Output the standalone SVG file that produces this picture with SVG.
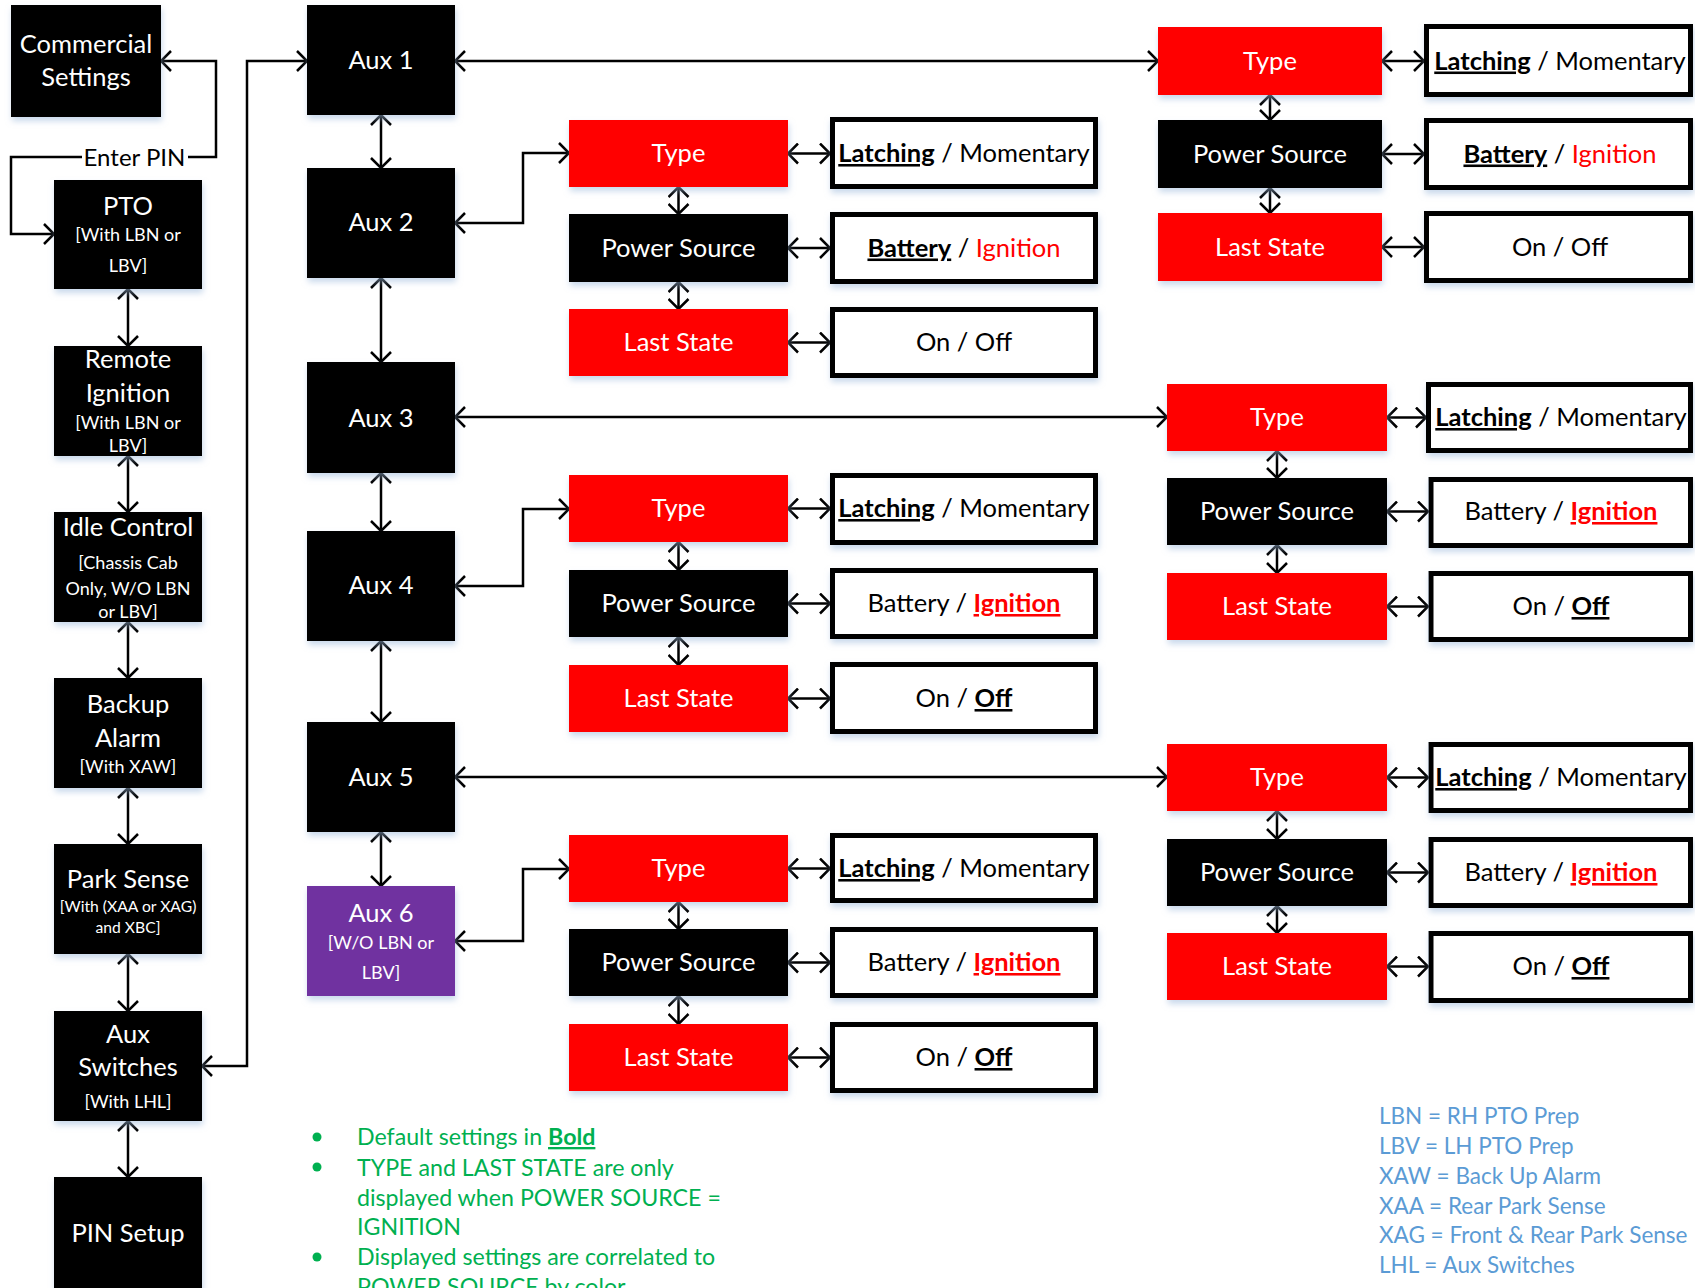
<svg xmlns="http://www.w3.org/2000/svg" width="1695" height="1288" viewBox="0 0 1695 1288">
<defs>
<style>
.blk{fill:#000}
.red{fill:#FF0000}
.pur{fill:#7030A0}
.box{filter:url(#sh)}
.val{fill:#fff;stroke:#000;stroke-width:5;filter:url(#sh)}
text{font-family:Lato,"Liberation Sans",sans-serif;text-anchor:middle}
.w{fill:#fff}
.m{font-size:25.5px}
.s{font-size:18px}
.xs{font-size:15.7px}
.ep{font-size:24px;fill:#000}
.v{fill:#000;font-size:25.5px}
.b{font-weight:bold;text-decoration:underline}
.r{fill:#FF0000}
.c{fill:none;stroke:#000;stroke-width:2.5;marker-end:url(#ah)}
.d{fill:none;stroke:#000;stroke-width:2.5;marker-start:url(#ah);marker-end:url(#ah)}
.g{fill:#00B050;font-size:23.2px;text-anchor:start}
.l{fill:#5B9BD5;font-size:22.5px;text-anchor:start}
</style>
<filter id="sh" x="-10%" y="-10%" width="125%" height="140%">
<feDropShadow dx="1" dy="4" stdDeviation="3" flood-color="#9DB9DC" flood-opacity="0.55"/>
</filter>
<marker id="ah" viewBox="0 0 12 22" refX="11" refY="11" markerWidth="12" markerHeight="22" markerUnits="userSpaceOnUse" orient="auto-start-reverse">
<path d="M1,1 L11,11 L1,21" fill="none" stroke="#000" stroke-width="2.5"/>
</marker>
</defs>
<rect width="1695" height="1288" fill="#fff"/>

<g id="connectors">
<path class="c" d="M188,157 H216 V61 H161"/>
<path class="c" d="M82,157 H11 V234 H54"/>
<path class="d" d="M128,289 V346"/>
<path class="d" d="M128,456 V512"/>
<path class="d" d="M128,622 V678"/>
<path class="d" d="M128,788 V844"/>
<path class="d" d="M128,954 V1011"/>
<path class="d" d="M128,1121 V1177"/>
<path class="d" d="M202,1066 H247 V61 H307"/>
<path class="d" d="M381,115 V168"/>
<path class="d" d="M381,278 V362"/>
<path class="d" d="M381,473 V531"/>
<path class="d" d="M381,641 V722"/>
<path class="d" d="M381,832 V886"/>
<path class="d" d="M455,61 H1158"/>
<path class="d" d="M455,417 H1167"/>
<path class="d" d="M455,777 H1167"/>
<path class="d" d="M455,223 H523 V153 H569"/>
<path class="d" d="M455,586 H523 V509 H569"/>
<path class="d" d="M455,941 H523 V869 H569"/>
<path class="d" d="M678.5,187 V214"/>
<path class="d" d="M678.5,282 V309"/>
<path class="d" d="M678.5,542 V570"/>
<path class="d" d="M678.5,637 V665"/>
<path class="d" d="M678.5,902 V929"/>
<path class="d" d="M678.5,996 V1024"/>
<path class="d" d="M1270,95 V120"/>
<path class="d" d="M1270,188 V213"/>
<path class="d" d="M1277,451 V478"/>
<path class="d" d="M1277,545 V573"/>
<path class="d" d="M1277,811 V839"/>
<path class="d" d="M1277,906 V933"/>
<path class="d" d="M788,153.5 H830"/>
<path class="d" d="M788,248 H830"/>
<path class="d" d="M788,342.5 H830"/>
<path class="d" d="M788,508.5 H830"/>
<path class="d" d="M788,603.5 H830"/>
<path class="d" d="M788,698.5 H830"/>
<path class="d" d="M788,868.5 H830"/>
<path class="d" d="M788,962.5 H830"/>
<path class="d" d="M788,1057.5 H830"/>
<path class="d" d="M1382,61 H1424"/>
<path class="d" d="M1382,154 H1424"/>
<path class="d" d="M1382,247 H1424"/>
<path class="d" d="M1387,417.5 H1426"/>
<path class="d" d="M1387,511.5 H1428"/>
<path class="d" d="M1387,606.5 H1428"/>
<path class="d" d="M1387,777.5 H1428"/>
<path class="d" d="M1387,872.5 H1428"/>
<path class="d" d="M1387,966.5 H1428"/>
</g>
<text class="ep" x="134.5" y="166">Enter PIN</text>

<g id="n-commercial"><rect class="blk box" x="11" y="5" width="150" height="112"/><text class="w m" x="86" y="53">Commercial</text><text class="w m" x="86" y="86">Settings</text></g>
<g id="n-pto"><rect class="blk box" x="54" y="180" width="148" height="109"/><text class="w m" x="128" y="215">PTO</text><text class="w s" x="128" y="241">[With LBN or</text><text class="w s" x="128" y="272">LBV]</text></g>
<g id="n-remote"><rect class="blk box" x="54" y="346" width="148" height="110"/><text class="w m" x="128" y="368">Remote</text><text class="w m" x="128" y="402">Ignition</text><text class="w s" x="128" y="429">[With LBN or</text><text class="w s" x="128" y="452">LBV]</text></g>
<g id="n-idle"><rect class="blk box" x="54" y="512" width="148" height="110"/><text class="w m" x="128" y="536">Idle Control</text><text class="w s" x="128" y="569">[Chassis Cab</text><text class="w s" x="128" y="595">Only, W/O LBN</text><text class="w s" x="128" y="618">or LBV]</text></g>
<g id="n-backup"><rect class="blk box" x="54" y="678" width="148" height="110"/><text class="w m" x="128" y="713">Backup</text><text class="w m" x="128" y="747">Alarm</text><text class="w s" x="128" y="773">[With XAW]</text></g>
<g id="n-park"><rect class="blk box" x="54" y="844" width="148" height="110"/><text class="w m" x="128" y="888">Park Sense</text><text class="w xs" x="128" y="912">[With (XAA or XAG)</text><text class="w xs" x="128" y="933">and XBC]</text></g>
<g id="n-auxsw"><rect class="blk box" x="54" y="1011" width="148" height="110"/><text class="w m" x="128" y="1043">Aux</text><text class="w m" x="128" y="1076">Switches</text><text class="w s" x="128" y="1108">[With LHL]</text></g>
<g id="n-pin"><rect class="blk box" x="54" y="1177" width="148" height="115"/><text class="w m" x="128" y="1242">PIN Setup</text></g>

<g id="n-aux1"><rect class="blk box" x="307" y="5" width="148" height="110"/><text class="w m" x="381" y="69">Aux 1</text></g>
<g id="n-aux2"><rect class="blk box" x="307" y="168" width="148" height="110"/><text class="w m" x="381" y="231">Aux 2</text></g>
<g id="n-aux3"><rect class="blk box" x="307" y="362" width="148" height="111"/><text class="w m" x="381" y="427">Aux 3</text></g>
<g id="n-aux4"><rect class="blk box" x="307" y="531" width="148" height="110"/><text class="w m" x="381" y="594">Aux 4</text></g>
<g id="n-aux5"><rect class="blk box" x="307" y="722" width="148" height="110"/><text class="w m" x="381" y="786">Aux 5</text></g>
<g id="n-aux6"><rect class="pur box" x="307" y="886" width="148" height="110"/><text class="w m" x="381" y="922">Aux 6</text><text class="w s" x="381" y="949">[W/O LBN or</text><text class="w s" x="381" y="979">LBV]</text></g>

<!-- Aux 1 group -->
<g id="n-aux1-type"><rect class="red box" x="1158" y="27" width="224" height="68"/><text class="w m" x="1270" y="69.5">Type</text></g>
<g id="n-aux1-power"><rect class="blk box" x="1158" y="120" width="224" height="68"/><text class="w m" x="1270" y="162.5">Power Source</text></g>
<g id="n-aux1-last"><rect class="red box" x="1158" y="213" width="224" height="68"/><text class="w m" x="1270" y="255.5">Last State</text></g>
<g id="n-aux1-typev"><rect class="val" x="1426.5" y="26.5" width="264" height="68"/><text class="v" x="1560" y="69.5"><tspan class="b">Latching</tspan> / Momentary</text></g>
<g id="n-aux1-powerv"><rect class="val" x="1426.5" y="120.5" width="264" height="67"/><text class="v" x="1560" y="162.5"><tspan class="b">Battery</tspan> / <tspan class="r">Ignition</tspan></text></g>
<g id="n-aux1-lastv"><rect class="val" x="1426.5" y="213.5" width="264" height="67"/><text class="v" x="1560" y="255.5">On / Off</text></g>

<!-- Aux 2 group -->
<g id="n-aux2-type"><rect class="red box" x="569" y="120" width="219" height="67"/><text class="w m" x="678.5" y="162">Type</text></g>
<g id="n-aux2-power"><rect class="blk box" x="569" y="214" width="219" height="68"/><text class="w m" x="678.5" y="256.5">Power Source</text></g>
<g id="n-aux2-last"><rect class="red box" x="569" y="309" width="219" height="67"/><text class="w m" x="678.5" y="351">Last State</text></g>
<g id="n-aux2-typev"><rect class="val" x="832.5" y="119.5" width="263" height="67"/><text class="v" x="964" y="162"><tspan class="b">Latching</tspan> / Momentary</text></g>
<g id="n-aux2-powerv"><rect class="val" x="832.5" y="214.5" width="263" height="67"/><text class="v" x="964" y="256.5"><tspan class="b">Battery</tspan> / <tspan class="r">Ignition</tspan></text></g>
<g id="n-aux2-lastv"><rect class="val" x="832.5" y="309.5" width="263" height="66"/><text class="v" x="964" y="351">On / Off</text></g>

<!-- Aux 3 group -->
<g id="n-aux3-type"><rect class="red box" x="1167" y="384" width="220" height="67"/><text class="w m" x="1277" y="426">Type</text></g>
<g id="n-aux3-power"><rect class="blk box" x="1167" y="478" width="220" height="67"/><text class="w m" x="1277" y="520">Power Source</text></g>
<g id="n-aux3-last"><rect class="red box" x="1167" y="573" width="220" height="67"/><text class="w m" x="1277" y="615">Last State</text></g>
<g id="n-aux3-typev"><rect class="val" x="1428.5" y="384.5" width="262" height="66"/><text class="v" x="1561" y="426"><tspan class="b">Latching</tspan> / Momentary</text></g>
<g id="n-aux3-powerv"><rect class="val" x="1431" y="479.5" width="259.5" height="66"/><text class="v" x="1561" y="520">Battery / <tspan class="r b">Ignition</tspan></text></g>
<g id="n-aux3-lastv"><rect class="val" x="1431" y="573.5" width="259.5" height="66"/><text class="v" x="1561" y="615">On / <tspan class="b">Off</tspan></text></g>

<!-- Aux 4 group -->
<g id="n-aux4-type"><rect class="red box" x="569" y="475" width="219" height="67"/><text class="w m" x="678.5" y="517">Type</text></g>
<g id="n-aux4-power"><rect class="blk box" x="569" y="570" width="219" height="67"/><text class="w m" x="678.5" y="612">Power Source</text></g>
<g id="n-aux4-last"><rect class="red box" x="569" y="665" width="219" height="67"/><text class="w m" x="678.5" y="707">Last State</text></g>
<g id="n-aux4-typev"><rect class="val" x="832.5" y="475.5" width="263" height="67"/><text class="v" x="964" y="517"><tspan class="b">Latching</tspan> / Momentary</text></g>
<g id="n-aux4-powerv"><rect class="val" x="832.5" y="570.5" width="263" height="66"/><text class="v" x="964" y="612">Battery / <tspan class="r b">Ignition</tspan></text></g>
<g id="n-aux4-lastv"><rect class="val" x="832.5" y="664.5" width="263" height="67"/><text class="v" x="964" y="707">On / <tspan class="b">Off</tspan></text></g>

<!-- Aux 5 group -->
<g id="n-aux5-type"><rect class="red box" x="1167" y="744" width="220" height="67"/><text class="w m" x="1277" y="786">Type</text></g>
<g id="n-aux5-power"><rect class="blk box" x="1167" y="839" width="220" height="67"/><text class="w m" x="1277" y="881">Power Source</text></g>
<g id="n-aux5-last"><rect class="red box" x="1167" y="933" width="220" height="67"/><text class="w m" x="1277" y="975">Last State</text></g>
<g id="n-aux5-typev"><rect class="val" x="1431" y="744.5" width="259.5" height="66"/><text class="v" x="1561" y="786"><tspan class="b">Latching</tspan> / Momentary</text></g>
<g id="n-aux5-powerv"><rect class="val" x="1431" y="839.5" width="259.5" height="66"/><text class="v" x="1561" y="881">Battery / <tspan class="r b">Ignition</tspan></text></g>
<g id="n-aux5-lastv"><rect class="val" x="1431" y="933.5" width="259.5" height="67"/><text class="v" x="1561" y="975">On / <tspan class="b">Off</tspan></text></g>

<!-- Aux 6 group -->
<g id="n-aux6-type"><rect class="red box" x="569" y="835" width="219" height="67"/><text class="w m" x="678.5" y="877">Type</text></g>
<g id="n-aux6-power"><rect class="blk box" x="569" y="929" width="219" height="67"/><text class="w m" x="678.5" y="971">Power Source</text></g>
<g id="n-aux6-last"><rect class="red box" x="569" y="1024" width="219" height="67"/><text class="w m" x="678.5" y="1066">Last State</text></g>
<g id="n-aux6-typev"><rect class="val" x="832.5" y="835.5" width="263" height="65"/><text class="v" x="964" y="877"><tspan class="b">Latching</tspan> / Momentary</text></g>
<g id="n-aux6-powerv"><rect class="val" x="832.5" y="929.5" width="263" height="66"/><text class="v" x="964" y="971">Battery / <tspan class="r b">Ignition</tspan></text></g>
<g id="n-aux6-lastv"><rect class="val" x="832.5" y="1024.5" width="263" height="66"/><text class="v" x="964" y="1066">On / <tspan class="b">Off</tspan></text></g>

<g id="notes">
<circle cx="317" cy="1137" r="4.5" fill="#00B050"/>
<circle cx="317" cy="1167" r="4.5" fill="#00B050"/>
<circle cx="317" cy="1257" r="4.5" fill="#00B050"/>
<text class="g" x="357" y="1145">Default settings in <tspan class="b">Bold</tspan></text>
<text class="g" x="357" y="1176">TYPE and LAST STATE are only</text>
<text class="g" x="357" y="1206">displayed when POWER SOURCE =</text>
<text class="g" x="357" y="1235">IGNITION</text>
<text class="g" x="357" y="1265">Displayed settings are correlated to</text>
<text class="g" x="357" y="1295">POWER SOURCE by color</text>
</g>
<g id="legend">
<text class="l" x="1379" y="1124">LBN = RH PTO Prep</text>
<text class="l" x="1379" y="1154">LBV = LH PTO Prep</text>
<text class="l" x="1379" y="1184">XAW = Back Up Alarm</text>
<text class="l" x="1379" y="1214">XAA = Rear Park Sense</text>
<text class="l" x="1379" y="1243">XAG = Front &amp; Rear Park Sense</text>
<text class="l" x="1379" y="1273">LHL = Aux Switches</text>
</g>
</svg>
